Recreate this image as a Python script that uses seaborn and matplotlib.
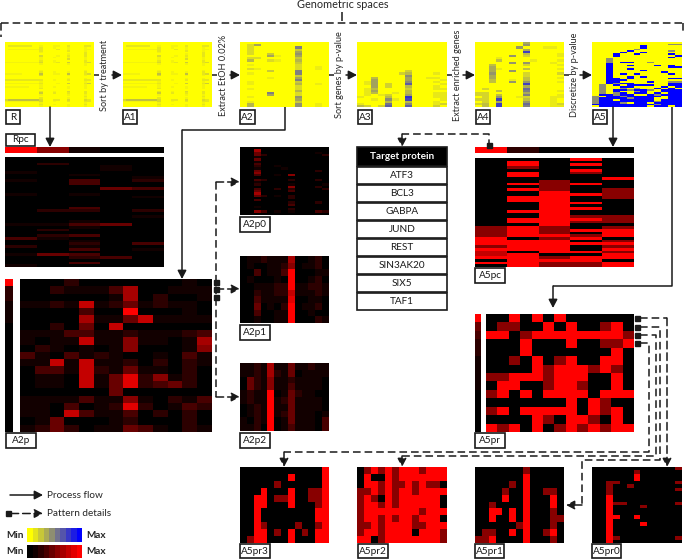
import numpy as np
import matplotlib
matplotlib.use("Agg")
import matplotlib.pyplot as plt
from matplotlib.colors import LinearSegmentedColormap
from matplotlib.patches import Rectangle
import seaborn as sns

W, H = 685, 559
YB = LinearSegmentedColormap.from_list("yb", ["#ffff00", "#808080", "#0000ff"])
KR = LinearSegmentedColormap.from_list("kr", [(0, "#000000"), (1 / 9, "#120000"), (3 / 9, "#480000"),
                                              (5 / 9, "#880000"), (1, "#ff0000")])

R_rows = ["00000000000000000000000000","00000000000000000000000000","02222222001000110020000220",
"00000000002000100010000100","01111111112000020010000110","00000000002000000020000100",
"00000000001000000000000200","00000000000000000010000200","00000000003000010020000200",
"00000000001000100010000100","00000000001000000030000100","00000000002000100000000200",
"11111111113000120040000230","00000000001000000010000100","00000000000000000000000100",
"00000000000000000000000000","00000000000000000000000000","00000000001000000000000100",
"00000000002000100010000200","11111000005000110050000230","00000000003000000010000100",
"00000000000000000000000000","00000000000000000010000100","22222222222000100020000220",
"00000000001000000000000100","11111111112000010040000240","00000000001000000000000100",
"11111110001000100010000100","00000000002000000010000100","00000000000000000000000000",
"00000000002000100030000200","00000000004000200020000200","00000000001000000010000100",
"00000000000000000000000200","00000000002000000010000100","35555555553000220030000320",
"11111111113000100020000220","00000000001000000000000100","00000000002000100010000200","00000000001000000010000100"]
A1_rows = ["00000000000000000000000000","00000000000000000000000000","02222222001000110020000220",
"00000000002000100010000100","01111111112000020010000110","00000000002000000020000100",
"00000000001000000000000200","00000000000000000010000200","00000000003000010020000200",
"00000000001000100010000100","00000000001000000030000100","00000000002000100000000200",
"11111111113000120040000230","00000000001000000010000100","00000000000000000000000100",
"00000000000000000000000000","00000000000000000000000000","00000000001000000000000100",
"00000000002000100010000200","11111000005000110050000230","00000000003000000010000100",
"00000000000000000000000000","00000000000000000010000100","22222222222000100020000220",
"00000000001000000000000100","11111111112000010040000240","00000000001000000000000100",
"11111110001000100010000100","00000000002000000010000100","00000000000000000000000000",
"00000000002000100030000200","00000000004000200020000200","00000000001000000010000100",
"00000000000000000000000200","00000000002000000010000100","35555555553000220030000320",
"11111111113000100020000220","00000000001000000000000100","00000000002000100010000200","00000000001000000010000100"]
A2_rows = ["0000000000000","0250000000000","0200000070000","0200000030000","0200000050000","0200300060000",
"0000510050000","0220000030000","0400210040000","0000000030000","0100000020000","0000000020010",
"0210000020010","0000300070000","0100000070000","0000000030000","0000100050000","0000000070000",
"0100000030000","0100000040010","0000000020000","0100000020000","0000000040000","0000700020000",
"0000500020000","0100000060000","0000000050000","0100000030000","0400000060010","0400000060010"]
A3_rows = ["0000000000000","0000000000000","0000000000000","0000000000000","0000000000000","0000000000000",
"0000000000000","0000000000000","0000000000000","0000000000000","0000000000000","0000000000000",
"0000000000000","0000000200000","0000002300010","0000000500000","0030000400110","0040000400001",
"0140000500010","0140200700001","0040200300010","0130000200011","0140000300000","0130010300011",
"0101200400011","1000300900011","0010510800001","0000300300010","1000600500012","3202700700020"]
A4_rows = ["0000000400000","0000000500000","0000005000110","0000000400000","0000000900000","0000000300001",
"0000050200001","0001000000000","0003000010001","0000050500010","0030000200001","0040000000000",
"0041000300001","0040050000000","0050000200002","0040000200000","0040000300001","0030010300000",
"0030050500001","0000000900000","0000000400000","0200000700000","0003000600001","2200000400000",
"2203000600001","0205001200011","2209000300010","0204000500010","2309000700012","0309000600011"]
A5_rows = ["0000000000000","0000000000044","0000000900000","0000000900000","0000004000000","0000090000040",
"0000900900000","0009009000090","0009000000009","0000000000090","0040000000000","0040000000000",
"0040990040000","0090000000000","0090090009090","0090000000099","0090090000000","0090000900000",
"0090000000900","0090909000090","0090000000000","0090090900000","0099090000099","0099900000000",
"0099000090044","0094990000099","0409099990099","0400990000909","0400404009090","0409949940999",
"0409004900999","0404909909099","0994990094999","4099499999099","4999949990099","4990999990999",
"4999999994999","4999409909999","9999999994999","0999999909909"]
Rpc_rows = ["00000","00000","02000","00010","00010","10000","00100","00001","10302","00300",
"00000","00043","00000","10100","00001","00000","00000","00000","00300","02202",
"00000","00001","00000","00100","11340","00100","02000","00000","02300","31000",
"00100","00203","20100","00301","00000","14300","00230","00000","00300","10000"]
Rpc_bar = ["95100"]
A5pc_rows = ["00090","09000","09090","05000","00090","09050","09000","00009","00500","09590",
"00500","09505","00905","00995","09905","09900","00990","00900","00990","09900",
"00900","00955","09995","09955","00900","59505","59599","59509","59959","90590",
"99905","99999","59905","99909","70995","79009","99599","09990","99559","09559"]
A5pc_bar = ["92000"]
A2p_rows = ["0002000000010","0021113600111","0000001602001","1121712412110","0000300900010",
"0000611471111","0020407000000","1113311211123","1011711511016","0210101500015",
"3103121001031","1171711202021","0331721411020","0110714825120","0110714823420",
"0000004000000","1111311510213","1103012820132","1107311302020","0140001200020","1242011431021"]
A2p_bar = ["9","2","2","1","1","1","0","0","0","0","0","0","0","0","0","0","0","0","0","0","0"]
A2p0_rows = ["0000000000000","0060000000000","0040000000010","0042000000002","0010000000000","0040000000000",
"0010000000000","0030000000000","0020010000000","0010001000000","0040000000020","0050000000000",
"0030010500000","0000000000000","0032000200020","0010000000000","0020000100001","0000000500020",
"0030020200002","0040000300000","0060000000000","0042010200000","0000000200000","0030000000000",
"0000000200020","0000000300000","0010000000000","0000000200000","0053010100032","0000000000000"]
A2p1_rows = ["0112111600120","0100112501120","0030113900011","0100010900120","0011122911221",
"0021122711121","0031111800110","0040102901120","0030011900100","0010011900021"]
A2p2_rows = ["1121611411211","1121621401111","0421511211110","0421511311110","1211901421100",
"1211912411110","0121911411110","0121912411101","1021901411103","1120901311103"]
A5pr_rows = ["0090909000000","0550090900590","9905999999995","0009000900559","0009000000090",
"0050905900990","0000959995950","5599959990090","0990059950090","5909099990999",
"0000000909500","5909999909590","0000950995090","9590905959599"]
A5pr_bar = ["9","4","3","2","2","1","1","1","1","0","0","0","0","0"]
A5pr3_rows = ["0000000000009","0000000900009","0000050000009","0009000900559","0099055900559",
"0099000900059","0090000000099","0090000000099","0095000050059","0099050905099","0599000900099"]
A5pr2_rows = ["0595959995999","0900959999999","0995955959550","5595959959999","5950959999990",
"5995959999990","5999999995999","5995959959990","5595999955999","5995999909995","9905999999995"]
A5pr1_rows = ["0000000500000","0000000900000","0000050900000","0000500900550","0000900900090",
"0050000900090","0099090900050","0090090900055","0000005900050","0550090900590","5590000900050"]
A5pr0_rows = ["0000000000005","0000005000000","0000009000000","0000009000000","0055000000005",
"0050050000000","0050000000005","0050000000000","0090000000000","0090000000000",
"0095500000005","0090000500000","0090000000000","0090000000000","0099009000000",
"0090000000000","0090000900000","0090000000000","0090000000000","0090000000000",
"0095000000005","0090000000000"]
proteins = ["ATF3", "BCL3", "GABPA", "JUND", "REST", "SIN3AK20", "SIX5", "TAF1"]
scale_steps = ["0123456789"]

sns.set_theme(style="white")
plt.rcParams["font.family"] = ["Lato", "DejaVu Sans"]
FS = 7.2
fig = plt.figure(figsize=(W / 100, H / 100), dpi=100)
fig.patch.set_facecolor("white")

def grid(rows):
    n = max(len(r) for r in rows)
    return np.array([[int(c) for c in r.ljust(n, "0")] for r in rows])

def hm(rows, x0, y0, x1, y1, cmap=KR, vmax=9):
    ax = fig.add_axes([x0 / W, 1 - y1 / H, (x1 - x0) / W, (y1 - y0) / H])
    sns.heatmap(grid(rows), ax=ax, cmap=cmap, vmin=0, vmax=vmax, cbar=False,
                xticklabels=False, yticklabels=False, rasterized=True)
    return ax

for rows, x0, x1, vm in [(R_rows, 5, 94, 20), (A1_rows, 123, 212, 20), (A2_rows, 240, 329, 14),
                         (A3_rows, 357, 447, 11), (A4_rows, 475, 564, 12), (A5_rows, 592, 682, 9)]:
    hm(rows, x0, 42, x1, 107, YB, vm)
hm(Rpc_bar, 5, 147, 164, 153)
hm(Rpc_rows, 5, 157, 164, 267)
hm(A5pc_bar, 475, 147, 634, 153)
hm(A5pc_rows, 475, 158, 634, 267)
hm(A2p_bar, 5, 279, 13, 432)
hm(A2p_rows, 20, 279, 212, 432)
hm(A2p0_rows, 240, 147, 329, 215)
hm(A2p1_rows, 240, 256, 329, 323)
hm(A2p2_rows, 240, 363, 329, 431)
hm(A5pr_bar, 475, 314, 481, 432)
hm(A5pr_rows, 486, 314, 634, 432)
hm(A5pr3_rows, 240, 467, 329, 543)
hm(A5pr2_rows, 357, 467, 447, 543)
hm(A5pr1_rows, 475, 467, 564, 543)
hm(A5pr0_rows, 592, 467, 682, 543)
hm(scale_steps, 27, 528, 82, 542, YB)
hm(scale_steps, 27, 545, 82, 558, KR)

ov = fig.add_axes([0, 0, 1, 1], zorder=10)
ov.set_xlim(0, W); ov.set_ylim(H, 0); ov.axis("off"); ov.patch.set_alpha(0)

def line(xs, ys, dashed=False, arrow=True):
    ls = (0, (5, 2.6)) if dashed else "-"
    if arrow:
        end = len(xs) - 1
        ov.plot(xs[:end], ys[:end], color="k", lw=1.1, ls=ls, solid_capstyle="butt")
        ov.annotate("", xy=(xs[end], ys[end]), xytext=(xs[end - 1], ys[end - 1]),
                    arrowprops=dict(arrowstyle="-|>,head_length=0.42,head_width=0.22", color="k", lw=1.1,
                                    ls=ls, shrinkA=0, shrinkB=0))
    else:
        ov.plot(xs, ys, color="k", lw=1.1, ls=ls, solid_capstyle="butt")

def box(x0, y0, x1, y1, s, fc="white", tc="k", weight="normal"):
    ov.add_patch(Rectangle((x0, y0), x1 - x0, y1 - y0, fc=fc, ec="k", lw=1.2))
    ov.text((x0 + x1) / 2, (y0 + y1) / 2, s, ha="center", va="center", fontsize=FS, color=tc, fontweight=weight)

# labels
for s, x0, x1 in [("R", 6, 20), ("A1", 123, 137), ("A2", 240, 255), ("A3", 358, 372), ("A4", 476, 490), ("A5", 593, 607)]:
    box(x0, 110, x1, 124, s)
box(6, 134, 35, 146, "Rpc")
box(6, 433, 36, 448, "A2p")
box(240, 217, 270, 232, "A2p0")
box(240, 325, 270, 340, "A2p1")
box(240, 433, 270, 448, "A2p2")
box(475, 268, 505, 283, "A5pc")
box(475, 433, 505, 448, "A5pr")
box(240, 544, 270, 558, "A5pr3")
box(358, 544, 388, 558, "A5pr2")
box(475, 544, 504, 558, "A5pr1")
box(592, 544, 621, 558, "A5pr0")

# table
box(357, 147, 447, 166, "Target protein", fc="black", tc="white", weight="bold")
for i, p in enumerate(proteins):
    box(357, 166.5 + i * 18, 447, 184 + i * 18, p)

# top bracket
line([1, 684], [23, 23], dashed=True, arrow=False)
line([1, 1], [23, 37], dashed=True, arrow=False)
line([683, 683], [23, 33], dashed=True, arrow=False)
line([342, 342], [12, 21], arrow=False)
ov.text(343, 5, "Genometric spaces", ha="center", va="center", fontsize=7.8)

# process steps
steps = [(94, 112, 122, 105, "Sort by treatment"), (212, 230, 240, 224, "Extract EtOH 0.02%"),
         (329, 346, 357, 340, "Sort genes by p-value"), (447, 463, 475, 458, "Extract enriched genes"),
         (564, 580, 592, 575, "Discretize by p-value")]
for x0, xa, x1, xt, s in steps:
    line([x0, x0 + 5], [75, 75], arrow=False)
    line([xa, x1], [75, 75])
    ov.text(xt, 75, s, rotation=90, ha="center", va="center", fontsize=6.6)

line([50, 50], [107, 147])
line([285, 285, 182, 182], [107, 130, 130, 279])
line([613, 613], [107, 147])
line([672, 672, 553, 553], [107, 286, 286, 308])
line([489, 489, 402, 402], [147, 134, 134, 147], dashed=True)
ov.add_patch(Rectangle((487, 143), 5, 5, fc="k", ec="k"))

# A2p pattern details
for y in (282, 289, 297):
    ov.add_patch(Rectangle((214, y - 2.5), 5, 5, fc="k", ec="k"))
line([216, 216], [182, 397], dashed=True, arrow=False)
line([216, 240], [182, 182], dashed=True)
line([216, 240], [289, 289], dashed=True)
line([216, 240], [397, 397], dashed=True)

# A5pr pattern details
for y in (318, 327, 335, 343):
    ov.add_patch(Rectangle((635, y - 2.5), 5, 5, fc="k", ec="k"))
line([640, 649, 649, 284, 284], [343, 343, 452, 452, 467], dashed=True)
line([640, 656, 656, 402, 402], [335, 335, 456, 456, 467], dashed=True)
line([640, 660, 660, 582, 582, 566], [327, 327, 460, 460, 505, 505], dashed=True)
line([640, 667, 667], [318, 318, 467], dashed=True)

# legend
line([10, 43], [495, 495])
ov.text(47, 495, "Process flow", va="center", fontsize=FS)
ov.add_patch(Rectangle((6, 511), 5, 5, fc="k", ec="k"))
line([11, 43], [513.5, 513.5], dashed=True)
ov.text(47, 514, "Pattern details", va="center", fontsize=FS)
for y in (535, 552):
    ov.text(15, y, "Min", ha="center", va="center", fontsize=FS, fontweight="bold")
    ov.text(96, y, "Max", ha="center", va="center", fontsize=FS, fontweight="bold")

fig.savefig("out.png", dpi=100, facecolor="white")
